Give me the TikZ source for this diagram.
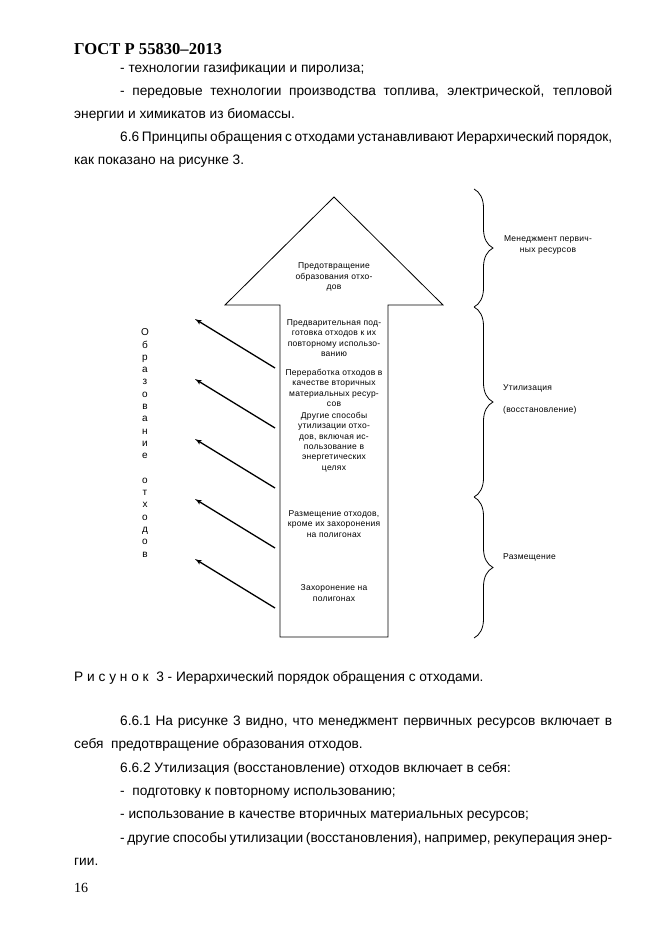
\documentclass[tikz,border=0pt]{standalone}
\usepackage{fontspec}
\setmainfont{Liberation Sans}
\newfontfamily\timesfont{Liberation Serif}
\newfontfamily\spacedfont[LetterSpace=3]{Liberation Sans}
\usetikzlibrary{arrows,decorations.pathreplacing}
\tikzstyle{textline} = [anchor=base west, inner sep=0pt, font=\fontsize{13.7}{16}\selectfont]
\tikzstyle{stage} = [align=center, inner sep=0pt, font=\spacedfont\fontsize{8.5}{10.3}\selectfont]
\tikzstyle{sidetext} = [anchor=west, inner sep=0pt, font=\spacedfont\fontsize{8.5}{10.3}\selectfont]
\tikzstyle{waste} = [->, line width=1.3pt]
\tikzstyle{bracket} = [decorate, decoration={brace, amplitude=19pt}, line width=0.8pt]

\begin{document}
\begin{tikzpicture}[x=1pt, y=-1pt, >=latex']
\useasboundingbox (0,0) rectangle (661,936);

% text above the figure
\node [textline, font=\timesfont\bfseries\fontsize{16.6}{19}\selectfont] (gost) at (74,55) {ГОСТ Р 55830–2013};
\node [textline] (line1) at (120,73) {- технологии газификации и пиролиза;};
\node [textline] (line2) at (120,96) {\makebox[492pt][s]{- передовые технологии производства топлива, электрической, тепловой}};
\node [textline] (line3) at (74,119) {энергии и химикатов из биомассы.};
\node [textline] (line4) at (120,142) {\makebox[492pt][s]{6.6 Принципы обращения с отходами устанавливают Иерархический порядок,}};
\node [textline] (line5) at (74,165) {как показано на рисунке 3.};

% the big arrow
\draw [line width=0.8pt] (280,637) -- (280,305) -- (225,305) -- (334,197)
  -- (443,305) -- (388,305) -- (388,637) -- cycle;
\node [stage] (prevent) at (334,277) {Предотвращение\\образования отхо-\\дов};
\node [stage] (reuse) at (334,338) {Предварительная под-\\готовка отходов к их\\повторному использо-\\ванию};
\node [stage] (recycle) at (334,388) {Переработка отходов в\\качестве вторичных\\материальных ресур-\\сов};
\node [stage] (recover) at (334,442) {Другие способы\\утилизации отхо-\\дов, включая ис-\\пользование в\\энергетических\\целях};
\node [stage] (place) at (334,524) {Размещение отходов,\\кроме их захоронения\\на полигонах};
\node [stage] (landfill) at (334,593) {Захоронение на\\полигонах};

% waste generation
\node [stage, font=\fontsize{10}{12.3}\selectfont] (waste) at (145,443)
  {О\\б\\р\\а\\з\\о\\в\\а\\н\\и\\е\\[12.3pt]о\\т\\х\\о\\д\\о\\в};
\coordinate (from1) at (275,368);
\coordinate (to1) at (195,319);
\coordinate (from2) at (275,428);
\coordinate (to2) at (195,379);
\coordinate (from3) at (275,488);
\coordinate (to3) at (195,439);
\coordinate (from4) at (275,548);
\coordinate (to4) at (195,499);
\coordinate (from5) at (275,608);
\coordinate (to5) at (195,559);
\draw [waste] (from1) -- (to1);
\draw [waste] (from2) -- (to2);
\draw [waste] (from3) -- (to3);
\draw [waste] (from4) -- (to4);
\draw [waste] (from5) -- (to5);

% braces on the right
\coordinate (br0) at (474,189);
\coordinate (br1) at (474,307);
\coordinate (br2) at (474,497);
\coordinate (br3) at (474,638);
\draw [bracket] (br0) -- (br1);
\draw [bracket] (br1) -- (br2);
\draw [bracket] (br2) -- (br3);
\node [stage] (primary) at (548,245) {Менеджмент первич-\\ных ресурсов};
\node [sidetext] (util) at (503,388) {Утилизация};
\node [sidetext] (restore) at (503,410) {(восстановление)};
\node [sidetext] (dispose) at (503,557) {Размещение};

% caption and text below
\node [textline] (caption) at (74,681) {Р и с у н о к\ \ 3 - Иерархический порядок обращения с отходами.};
\node [textline] (line6) at (120,725) {\makebox[492pt][s]{6.6.1 На рисунке 3 видно, что менеджмент первичных ресурсов включает в}};
\node [textline] (line7) at (74,748) {себя\ \ предотвращение образования отходов.};
\node [textline] (line8) at (120,772) {6.6.2 Утилизация (восстановление) отходов включает в себя:};
\node [textline] (line9) at (120,795) {-\ \ подготовку к повторному использованию;};
\node [textline] (line10) at (120,818) {- использование в качестве вторичных материальных ресурсов;};
\node [textline] (line11) at (120,842) {\makebox[492pt][s]{- другие способы утилизации (восстановления), например, рекуперация энер-}};
\node [textline] (line12) at (74,865) {гии.};
\node [textline, font=\timesfont\fontsize{14}{16}\selectfont] (page) at (74,892) {16};

\end{tikzpicture}
\end{document}
